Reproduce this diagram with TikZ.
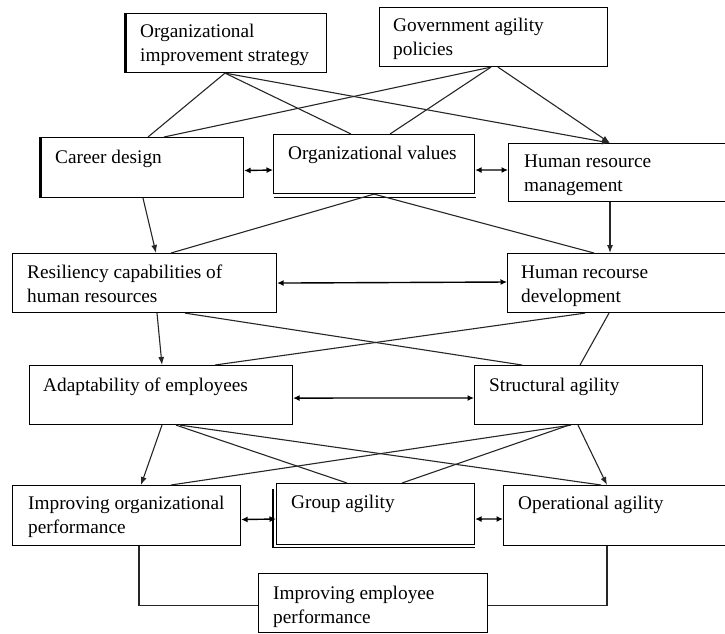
\documentclass[tikz,border=0pt]{standalone}
\usepackage{fontspec}
\setmainfont{Liberation Serif}
\usetikzlibrary{arrows.meta}
\tikzset{
  box/.style={draw, line width=1.1pt, inner sep=0pt, anchor=north west},
  txt/.style={inner sep=0pt, anchor=base west, align=left, font=\fontsize{19.3}{24}\selectfont},
  con/.style={line width=1.1pt, draw=black!85},
  arr/.style={con, -{Latex[length=8pt,width=6pt]}},
  dbl/.style={line width=1.4pt, {Latex[length=6.5pt,width=6pt]}-{Latex[length=6.5pt,width=6pt]}},
  shad/.style={line width=1.1pt}
}
\begin{document}
\begin{tikzpicture}[x=1pt,y=-1pt]
\useasboundingbox (0,0) rectangle (725,633);
% boxes
\node[box, minimum width=202pt, minimum height=59pt] (ois) at (124,13) {};
\node[box, minimum width=228pt, minimum height=59pt] (gap) at (379,7) {};
\node[box, minimum width=204pt, minimum height=60pt] (cd) at (39,137) {};
\node[box, minimum width=201pt, minimum height=59pt] (ov) at (273,134) {};
\node[box, minimum width=219pt, minimum height=58pt] (hrm) at (508,143) {};
\node[box, minimum width=264pt, minimum height=59pt] (res) at (12,253) {};
\node[box, minimum width=220pt, minimum height=59pt] (hrd) at (507,253) {};
\node[box, minimum width=263pt, minimum height=59pt] (ae) at (29,365) {};
\node[box, minimum width=228pt, minimum height=59pt] (sa) at (474,365) {};
\node[box, minimum width=228pt, minimum height=60pt] (iop) at (12,485) {};
\node[box, minimum width=198pt, minimum height=61pt] (ga) at (276,483) {};
\node[box, minimum width=224pt, minimum height=60pt] (oa) at (503,485) {};
\node[box, minimum width=229pt, minimum height=59pt] (iep) at (258,573) {};
% shadow edges
\draw[shad] ([xshift=2pt]ois.north west) -- ([xshift=2pt]ois.south west);
\draw[shad] ([xshift=2pt]cd.north west) -- ([xshift=2pt]cd.south west);
\draw[shad] ([xshift=1pt,yshift=-3pt]ov.south west) -- ([xshift=1pt,yshift=-3pt]ov.south east);
\draw[shad] ([xshift=-3pt,yshift=-6pt]ga.north west) -- ([xshift=-3pt,yshift=-2pt]ga.south west) -- ([yshift=-2pt]ga.south east);
% texts (multi-line nodes: base = last line)
\node[txt] (ois-t) at (140,61) {Organizational\\improvement strategy};
\node[txt] (gap-t) at (393,55) {Government agility\\policies};
\node[txt] (cd-t) at (55,163) {Career design};
\node[txt] (ov-t) at (288,159) {Organizational values};
\node[txt] (hrm-t) at (524,191) {Human resource\\management};
\node[txt] (res-t) at (27,302) {Resiliency capabilities of\\human resources};
\node[txt] (hrd-t) at (521,302) {Human recourse\\development};
\node[txt] (ae-t) at (43,391) {Adaptability of employees};
\node[txt] (sa-t) at (489,391) {Structural agility};
\node[txt] (iop-t) at (28,533) {Improving organizational\\performance};
\node[txt] (ga-t) at (291,508) {Group agility};
\node[txt] (oa-t) at (518,509) {Operational agility};
\node[txt] (iep-t) at (273,623) {Improving employee\\performance};
% connectors
\draw[con] ([xshift=101pt]ois.south west) -- ([xshift=109pt]cd.north west);
\draw[con] ([xshift=101pt]ois.south west) -- ([xshift=78pt]ov.north west);
\draw[arr] ([xshift=101pt]ois.south west) -- ([xshift=102pt]hrm.north west);
\draw[con] ([xshift=112pt]gap.south west) -- ([xshift=125pt]cd.north west);
\draw[con] ([xshift=112pt]gap.south west) -- ([xshift=117pt]ov.north west);
\draw[arr] ([xshift=119pt]gap.south west) -- ([xshift=102pt]hrm.north west);
\draw[arr] ([xshift=104pt]cd.south west) -- ([xshift=144pt]res.north west);
\draw[con] ([xshift=101pt]ov.south west) -- ([xshift=159pt]res.north west);
\draw[con] ([xshift=101pt]ov.south west) -- ([xshift=87pt]hrd.north west);
\draw[arr] ([xshift=102pt]hrm.south west) -- ([xshift=103pt]hrd.north west);
\draw[arr] ([xshift=145pt]res.south west) -- ([xshift=133pt]ae.north west);
\draw[con] ([xshift=173pt]res.south west) -- ([xshift=48pt]sa.north west);
\draw[con] ([xshift=78pt]hrd.south west) -- ([xshift=186pt]ae.north west);
\draw[con] ([xshift=102pt]hrd.south west) -- ([xshift=106pt]sa.north west);
\draw[arr] ([xshift=133pt]ae.south west) -- ([xshift=129pt]iop.north west);
\draw[con] ([xshift=147pt]ae.south west) -- ([xshift=71pt]ga.north west);
\draw[con] ([xshift=151pt]ae.south west) -- ([xshift=98pt]oa.north west);
\draw[con] ([xshift=97pt]sa.south west) -- ([xshift=159pt]iop.north west);
\draw[con] ([xshift=95pt]sa.south west) -- ([xshift=126pt]ga.north west);
\draw[arr] ([xshift=104pt]sa.south west) -- ([xshift=104pt]oa.north west);
\draw[con] ([xshift=127pt]iop.south west) |- ([yshift=-2pt]iep.west);
\draw[con] ([xshift=104pt]oa.south west) |- ([yshift=-2pt]iep.east);
% double arrows
\draw[dbl] ([yshift=-3pt]cd.east) -- (ov.west |- 0,170);
\draw[dbl] ([yshift=-6pt]ov.east) -- (hrm.west |- 0,170);
\draw[dbl] ([yshift=0pt]res.east) -- (hrd.west |- 0,282);
\draw[dbl] ([yshift=-3pt]ae.east) -- (sa.west |- 0,398);
\draw[dbl] ([yshift=-4pt]iop.east) -- (ga.west |- 0,519);
\draw[dbl] ([yshift=-5pt]ga.east) -- (oa.west |- 0,519);
\end{tikzpicture}
\end{document}
